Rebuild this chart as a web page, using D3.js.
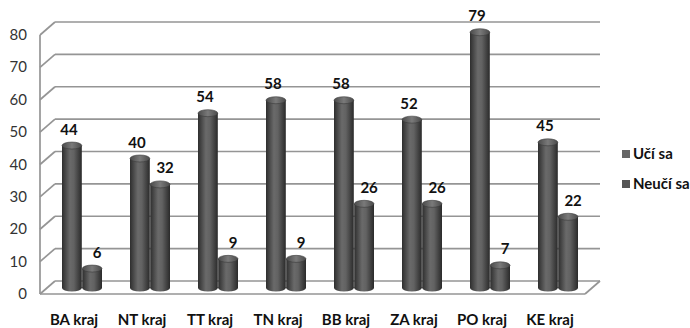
<!DOCTYPE html>
<html>
<head>
<meta charset="utf-8">
<script src="https://cdn.jsdelivr.net/npm/d3@7"></script>
<style>
  body { margin: 0; background: #fff; }
  text { font-family: Lato, "Open Sans", sans-serif; }
</style>
</head>
<body>
<div id="chart"></div>
<script>
// data
const regions = ["BA kraj", "NT kraj", "TT kraj", "TN kraj", "BB kraj", "ZA kraj", "PO kraj", "KE kraj"];
const seriesNames = ["Učí sa", "Neučí sa"];
const uciSa = [44, 40, 54, 58, 58, 52, 79, 45];
const neuciSa = [6, 32, 9, 9, 26, 26, 7, 22];
const yTicks = [0, 10, 20, 30, 40, 50, 60, 70, 80];

let width = 690, height = 328;
// depth offset of the 3D box
const dx = 15, dy = -13;

const svg = d3.select("#chart").append("svg")
  .attr("width", width).attr("height", height);

const defs = svg.append("defs");
const grad = defs.append("linearGradient").attr("id", "cyl")
  .attr("x1", "0%").attr("x2", "100%").attr("y1", "0%").attr("y2", "0%");
grad.append("stop").attr("offset", "0%").attr("stop-color", "#2e2e2e");
grad.append("stop").attr("offset", "40%").attr("stop-color", "#6a6a6a");
grad.append("stop").attr("offset", "60%").attr("stop-color", "#626262");
grad.append("stop").attr("offset", "100%").attr("stop-color", "#2a2a2a");
const gradTop = defs.append("linearGradient").attr("id", "cylTop")
  .attr("x1", "0%").attr("x2", "100%").attr("y1", "0%").attr("y2", "0%");
gradTop.append("stop").attr("offset", "0%").attr("stop-color", "#4a4a4a");
gradTop.append("stop").attr("offset", "50%").attr("stop-color", "#7a7a7a");
gradTop.append("stop").attr("offset", "100%").attr("stop-color", "#4a4a4a");

// scales: front face, back wall, and bar plane in between
const yFront = d3.scaleLinear().domain([0, 80]).range([294, 35]);
const yBack = d3.scaleLinear().domain([0, 80]).range([294 + dy, 35 + dy]);
const yBar = d3.scaleLinear().domain([0, 80]).range([288, 29]);
const x = d3.scaleBand().domain(regions).range([48, 592]);
const xs = d3.scaleBand().domain(seriesNames).range([14, 54]).paddingInner(0.02);

const xLeft = 40, xRight = 585;

// gridlines: slanted on the left wall, straight on the back wall
const grid = svg.append("g").attr("stroke", "#959595").attr("stroke-width", 1.7).attr("fill", "none");
grid.selectAll(".side").data(yTicks).join("line")
  .attr("x1", xLeft).attr("y1", d => yFront(d))
  .attr("x2", xLeft + dx).attr("y2", d => yBack(d));
grid.selectAll(".back").data(yTicks).join("line")
  .attr("x1", xLeft + dx).attr("y1", d => yBack(d))
  .attr("x2", xRight + dx).attr("y2", d => yBack(d));
// left wall front edge and floor front edge
grid.append("line").attr("x1", xLeft).attr("y1", yFront(80)).attr("x2", xLeft).attr("y2", yFront(0));
grid.append("line").attr("x1", xLeft).attr("y1", yFront(0)).attr("x2", xRight).attr("y2", yFront(0));
grid.append("line").attr("x1", xRight).attr("y1", yFront(0)).attr("x2", xRight + dx).attr("y2", yBack(0));

// y axis labels
svg.append("g").selectAll("text").data(yTicks).join("text")
  .attr("x", 27).attr("y", d => yFront(d) + 5)
  .attr("text-anchor", "end")
  .attr("font-size", 15).attr("fill", "#333")
  .text(d => d);

// cylinders
const rows = regions.map((r, i) => [
  { region: r, series: seriesNames[0], value: uciSa[i], shift: -3 },
  { region: r, series: seriesNames[1], value: neuciSa[i], shift: 5 }
]).flat();

const rx = xs.bandwidth() / 2, ry = 3.5;
const bars = svg.append("g").selectAll("g").data(rows).join("g")
  .attr("transform", d => `translate(${x(d.region) + xs(d.series) + rx},0)`);
bars.append("ellipse")
  .attr("cx", 0).attr("cy", yBar(0)).attr("rx", rx).attr("ry", ry)
  .attr("fill", "url(#cyl)");
bars.append("rect")
  .attr("x", -rx).attr("width", rx * 2)
  .attr("y", d => yBar(d.value)).attr("height", d => yBar(0) - yBar(d.value))
  .attr("fill", "url(#cyl)");
bars.append("ellipse")
  .attr("cx", 0).attr("cy", d => yBar(d.value)).attr("rx", rx).attr("ry", ry)
  .attr("fill", "url(#cylTop)").attr("stroke", "#3a3a3a").attr("stroke-width", 0.6);

// value labels
bars.append("text")
  .attr("x", d => d.shift).attr("y", d => yBar(d.value) - 11)
  .attr("text-anchor", "middle")
  .attr("font-size", 15).attr("font-weight", "bold").attr("fill", "#111")
  .text(d => d.value);

// category labels
svg.append("g").selectAll("text").data(regions).join("text")
  .attr("x", d => x(d) + x.bandwidth() / 2 - 8).attr("y", 325)
  .attr("text-anchor", "middle")
  .attr("font-size", 15).attr("font-weight", "bold").attr("fill", "#111")
  .text(d => d);

// legend
const legend = svg.append("g").selectAll("g").data(seriesNames).join("g")
  .attr("transform", (d, i) => `translate(622,${150 + i * 30})`);
legend.append("rect").attr("width", 8).attr("height", 8)
  .attr("fill", (d, i) => i === 0 ? "#666" : "#555");
legend.append("text").attr("x", 11).attr("y", 9)
  .attr("font-size", 15).attr("font-weight", "bold").attr("fill", "#111")
  .text(d => d);
</script>
</body>
</html>
